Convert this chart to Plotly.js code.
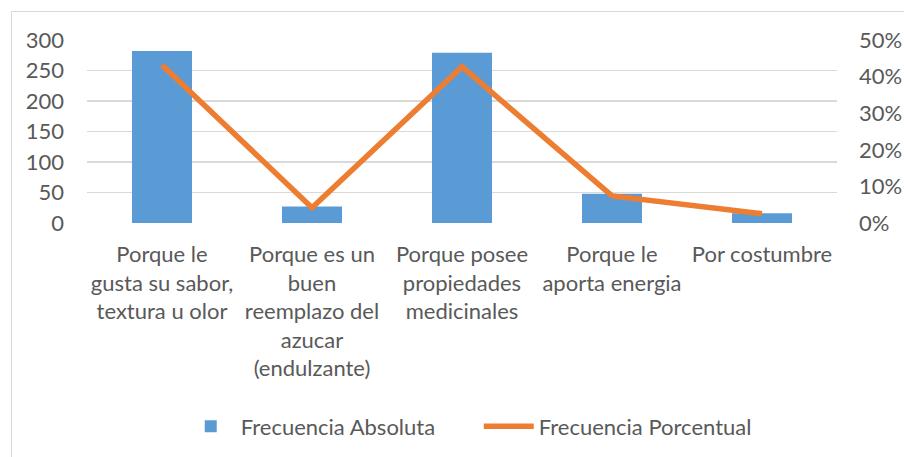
<!DOCTYPE html>
<html>
<head>
<meta charset="utf-8">
<script src="https://cdn.plot.ly/plotly-3.0.1.min.js"></script>
<style>
html,body{margin:0;padding:0;background:#fff;}
#wrap{position:relative;width:904px;height:457px;overflow:hidden;}
#frame{position:absolute;left:11px;top:11px;width:1000px;height:1000px;border-left:1.5px solid #d9d9d9;border-top:1.5px solid #d9d9d9;box-sizing:border-box;pointer-events:none;}
#chart{position:absolute;left:0;top:0;width:904px;height:457px;}
</style>
</head>
<body>
<div id="wrap">
<div id="chart"></div>
<div id="frame"></div>
</div>
<script>
const categories = [
  "Porque le<br>gusta su sabor,<br>textura u olor",
  "Porque es un<br>buen<br>reemplazo del<br>azucar<br>(endulzante)",
  "Porque posee<br>propiedades<br>medicinales",
  "Porque le<br>aporta energia",
  "Por costumbre"
];
const absoluteFreq = [282, 27, 279, 48, 16];
const percentFreq = [0.432, 0.042, 0.427, 0.074, 0.025];

const fontFamily = "Lato, 'Open Sans', sans-serif";
const gray = "#595959";
const fs = 22;

const traces = [
  {
    type: "bar",
    name: "Frecuencia Absoluta",
    x: categories,
    y: absoluteFreq,
    marker: {color: "#5B9BD5"},
    width: 0.4,
    yaxis: "y"
  },
  {
    type: "scatter",
    mode: "lines",
    name: "Frecuencia Porcentual",
    x: categories,
    y: percentFreq,
    line: {color: "#ED7D31", width: 5.5},
    yaxis: "y2"
  }
];

const layout = {
  width: 904,
  height: 457,
  margin: {l: 87, r: 67, t: 40, b: 233},
  paper_bgcolor: "#fff",
  plot_bgcolor: "#fff",
  font: {family: fontFamily, size: fs, color: gray},
  showlegend: true,
  legend: {
    orientation: "h",
    x: 0.125,
    xanchor: "left",
    y: -1.1,
    yanchor: "middle",
    font: {family: fontFamily, size: fs, color: gray},
    itemwidth: 50,
    entrywidth: 233,
    entrywidthmode: "pixels",
    traceorder: "normal"
  },
  xaxis: {
    type: "category",
    showgrid: false,
    showline: false,
    zeroline: false,
    ticks: "",
    tickangle: 0,
    tickfont: {family: fontFamily, size: fs, color: gray},
    ticklabelstandoff: 16,
    fixedrange: true
  },
  yaxis: {
    range: [0, 300],
    dtick: 50,
    tick0: 0,
    showgrid: true,
    gridcolor: "#d9d9d9",
    gridwidth: 1.5,
    zeroline: false,
    showline: false,
    ticks: "",
    tickfont: {family: fontFamily, size: fs, color: gray},
    ticklabelstandoff: 22,
    fixedrange: true
  },
  yaxis2: {
    overlaying: "y",
    side: "right",
    range: [0, 0.5],
    dtick: 0.1,
    tick0: 0,
    tickformat: ".0%",
    showgrid: false,
    zeroline: false,
    showline: false,
    ticks: "",
    tickfont: {family: fontFamily, size: fs, color: gray},
    ticklabelstandoff: 21,
    fixedrange: true
  },
  bargap: 0.6
};

Plotly.newPlot("chart", traces, layout, {displayModeBar: false, staticPlot: true});
</script>
</body>
</html>
